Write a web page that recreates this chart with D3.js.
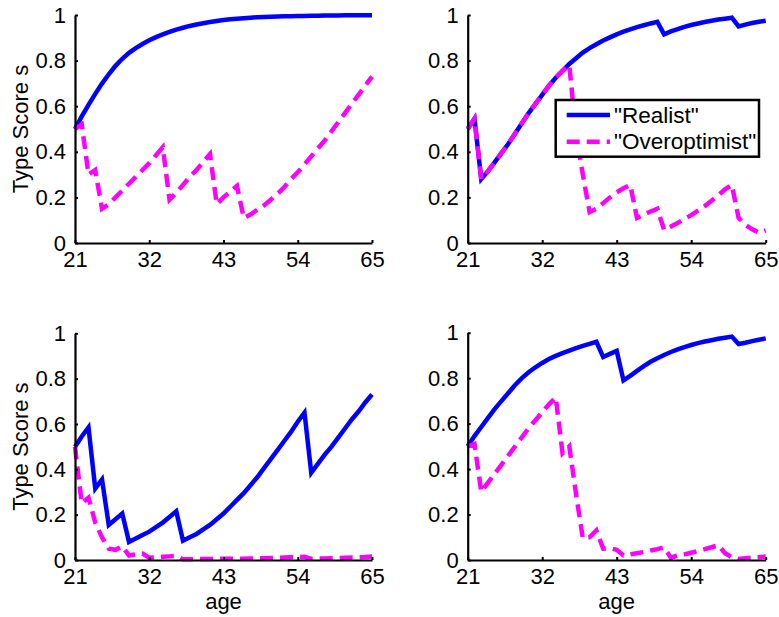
<!DOCTYPE html>
<html>
<head>
<meta charset="utf-8">
<script src="https://cdn.jsdelivr.net/npm/d3@7"></script>
<style>
  html, body { margin: 0; padding: 0; background: #fff; }
  svg { display: block; }
  text { font-family: "Liberation Sans", Arial, Helvetica, sans-serif; fill: #000; }
</style>
</head>
<body>
<svg id="chart" width="779" height="617"></svg>
<script>
// Age grid shared by every panel
const ages = [21, 22, 23, 24, 25, 26, 27, 28, 29, 30, 31, 32, 33, 34, 35, 36, 37, 38, 39, 40,
  41, 42, 43, 44, 45, 46, 47, 48, 49, 50, 51, 52, 53, 54, 55, 56, 57, 58, 59, 60,
  61, 62, 63, 64, 65];

const xTicks = [21, 32, 43, 54, 65];
const yTicks = [0, 0.2, 0.4, 0.6, 0.8, 1];
const yTickLabels = ["0", "0.2", "0.4", "0.6", "0.8", "1"];

const seriesNames = ["\"Realist\"", "\"Overoptimist\""];

// Panel A (top left)
const realistA = [0.5, 0.555, 0.606, 0.654, 0.699, 0.74, 0.777, 0.808, 0.834, 0.855,
  0.873, 0.889, 0.903, 0.915, 0.926, 0.936, 0.944, 0.952, 0.958, 0.964,
  0.969, 0.974, 0.978, 0.981, 0.984, 0.986, 0.988, 0.99, 0.991, 0.992,
  0.993, 0.994, 0.995, 0.996, 0.996, 0.997, 0.997, 0.998, 0.998, 0.998,
  0.999, 0.999, 0.999, 0.999, 0.999];
const overoptA = [0.5, 0.52, 0.3, 0.32, 0.15, 0.17, 0.2, 0.23, 0.26, 0.29,
  0.32, 0.35, 0.385, 0.42, 0.19, 0.22, 0.255, 0.29, 0.32, 0.355,
  0.39, 0.17, 0.2, 0.225, 0.25, 0.11, 0.125, 0.145, 0.165, 0.19,
  0.215, 0.245, 0.28, 0.31, 0.345, 0.38, 0.415, 0.45, 0.49, 0.53,
  0.57, 0.61, 0.65, 0.69, 0.73];

// Panel B (top right)
const realistB = [0.5, 0.545, 0.28, 0.315, 0.355, 0.395, 0.435, 0.48, 0.525, 0.57,
  0.61, 0.65, 0.69, 0.725, 0.755, 0.785, 0.81, 0.835, 0.855, 0.872,
  0.888, 0.902, 0.915, 0.927, 0.937, 0.947, 0.955, 0.963, 0.97, 0.915,
  0.928, 0.938, 0.948, 0.956, 0.963, 0.969, 0.975, 0.98, 0.984, 0.988,
  0.95, 0.958, 0.965, 0.97, 0.975];
const overoptB = [0.5, 0.545, 0.28, 0.315, 0.355, 0.395, 0.435, 0.48, 0.525, 0.57,
  0.61, 0.65, 0.69, 0.725, 0.755, 0.78, 0.48, 0.3, 0.135, 0.15,
  0.175, 0.2, 0.222, 0.24, 0.255, 0.11, 0.125, 0.138, 0.15, 0.057,
  0.072, 0.088, 0.105, 0.122, 0.142, 0.162, 0.185, 0.21, 0.235, 0.255,
  0.11, 0.08, 0.06, 0.045, 0.055];

// Panel C (bottom left)
const realistC = [0.5, 0.545, 0.585, 0.315, 0.355, 0.155, 0.18, 0.205, 0.08, 0.095,
  0.11, 0.125, 0.145, 0.165, 0.19, 0.215, 0.085, 0.1, 0.115, 0.135,
  0.155, 0.18, 0.205, 0.235, 0.265, 0.295, 0.33, 0.365, 0.405, 0.445,
  0.485, 0.525, 0.565, 0.61, 0.65, 0.385, 0.425, 0.465, 0.5, 0.54,
  0.58, 0.62, 0.655, 0.695, 0.73];
const overoptC = [0.5, 0.25, 0.275, 0.165, 0.1, 0.05, 0.045, 0.06, 0.02, 0.025,
  0.028, 0.01, 0.012, 0.014, 0.016, 0.018, 0.003, 0.003, 0.004, 0.004,
  0.004, 0.005, 0.005, 0.005, 0.006, 0.006, 0.007, 0.007, 0.008, 0.009,
  0.01, 0.011, 0.012, 0.013, 0.014, 0.005, 0.006, 0.007, 0.008, 0.009,
  0.01, 0.011, 0.012, 0.013, 0.015];

// Panel D (bottom right)
const realistD = [0.5, 0.545, 0.585, 0.625, 0.665, 0.7, 0.735, 0.77, 0.8, 0.826,
  0.848, 0.867, 0.884, 0.898, 0.91, 0.921, 0.932, 0.942, 0.951, 0.96,
  0.893, 0.907, 0.92, 0.79, 0.81, 0.832, 0.853, 0.872, 0.888, 0.902,
  0.915, 0.927, 0.937, 0.946, 0.954, 0.961, 0.967, 0.973, 0.978, 0.983,
  0.95, 0.956, 0.963, 0.969, 0.975];
const overoptD = [0.5, 0.51, 0.3, 0.34, 0.38, 0.42, 0.46, 0.5, 0.54, 0.58,
  0.615, 0.65, 0.685, 0.715, 0.47, 0.5, 0.29, 0.095, 0.1, 0.13,
  0.05, 0.052, 0.045, 0.02, 0.025, 0.03, 0.035, 0.042, 0.048, 0.055,
  0.01, 0.02, 0.025, 0.032, 0.04, 0.048, 0.056, 0.065, 0.03, 0.012,
  0.005, 0.008, 0.01, 0.012, 0.015];

const BLUE = "#0000ff";
const MAGENTA = "#ff00ff";
const DASH = "13,7";
const LINE_W = 4.5;
const FONT = 22;

const panels = [
  { realist: realistA, overopt: overoptA, left: 75,    right: 372,   top: 15,    bottom: 243, tickBase: 24,   ylabel: true,  xlabel: false, legend: false },
  { realist: realistB, overopt: overoptB, left: 467.7, right: 765.7, top: 15,    bottom: 243, tickBase: 24,   ylabel: false, xlabel: false, legend: true },
  { realist: realistC, overopt: overoptC, left: 75,    right: 372,   top: 333.3, bottom: 560, tickBase: 23.5, ylabel: true,  xlabel: true,  legend: false },
  { realist: realistD, overopt: overoptD, left: 467.7, right: 765.7, top: 332.7, bottom: 560, tickBase: 23.5, ylabel: false, xlabel: true,  legend: false }
];

const svg = d3.select("#chart");

panels.forEach(p => {
  const x = d3.scaleLinear().domain([21, 65]).range([p.left, p.right]);
  const y = d3.scaleLinear().domain([0, 1]).range([p.bottom, p.top]);
  const g = svg.append("g");

  const line = d3.line()
    .x((d, i) => x(ages[i]))
    .y(d => y(d));

  // Realist path, then the dashed overoptimist path on top
  g.append("path")
    .datum(p.realist)
    .attr("d", line)
    .attr("fill", "none")
    .attr("stroke", BLUE)
    .attr("stroke-width", LINE_W)
    .attr("stroke-linejoin", "miter")
    .attr("stroke-miterlimit", 3);

  g.append("path")
    .datum(p.overopt)
    .attr("d", line)
    .attr("fill", "none")
    .attr("stroke", MAGENTA)
    .attr("stroke-width", LINE_W)
    .attr("stroke-dasharray", DASH)
    .attr("stroke-linejoin", "miter")
    .attr("stroke-miterlimit", 3);

  // Axes with inward ticks
  const xAxis = d3.axisBottom(x)
    .tickValues(xTicks)
    .tickFormat(d => String(d))
    .tickSize(-3)
    .tickSizeOuter(0)
    .tickPadding(0);
  const yAxis = d3.axisLeft(y)
    .tickValues(yTicks)
    .tickFormat((d, i) => yTickLabels[i])
    .tickSize(-3)
    .tickSizeOuter(0)
    .tickPadding(9);

  const gx = g.append("g")
    .attr("transform", `translate(0,${p.bottom})`)
    .call(xAxis);
  const gy = g.append("g")
    .attr("transform", `translate(${p.left},0)`)
    .call(yAxis);

  [gx, gy].forEach(ax => {
    ax.select(".domain").attr("stroke", "#000").attr("stroke-width", 2.2);
    ax.selectAll(".tick line").attr("stroke", "#000").attr("stroke-width", 2);
    ax.selectAll(".tick text")
      .attr("fill", "#000")
      .style("font-size", FONT + "px")
      .style("font-family", "'Liberation Sans', Arial, Helvetica, sans-serif");
  });
  gx.selectAll(".tick text").attr("y", p.tickBase).attr("dy", null);

  if (p.ylabel) {
    g.append("text")
      .attr("transform", `translate(28,${(p.top + p.bottom) / 2}) rotate(-90)`)
      .attr("text-anchor", "middle")
      .style("font-size", FONT + "px")
      .text("Type Score s");
  }
  if (p.xlabel) {
    g.append("text")
      .attr("x", (p.left + p.right) / 2)
      .attr("y", 609)
      .attr("text-anchor", "middle")
      .style("font-size", FONT + "px")
      .text("age");
  }

  if (p.legend) {
    const lg = g.append("g");
    lg.append("rect")
      .attr("x", 555.7).attr("y", 100)
      .attr("width", 203.3).attr("height", 56.7)
      .attr("fill", "#fff")
      .attr("stroke", "#000")
      .attr("stroke-width", 2.5);
    const rows = [
      { name: seriesNames[0], color: BLUE, dash: null, cy: 115 },
      { name: seriesNames[1], color: MAGENTA, dash: DASH, cy: 141.7 }
    ];
    rows.forEach(r => {
      lg.append("line")
        .attr("x1", 566.7).attr("x2", 610)
        .attr("y1", r.cy).attr("y2", r.cy)
        .attr("stroke", r.color)
        .attr("stroke-width", LINE_W)
        .attr("stroke-dasharray", r.dash);
      lg.append("text")
        .attr("x", 614)
        .attr("y", r.cy + 7.5)
        .style("font-size", "22.5px")
        .text(r.name);
    });
  }
});
</script>
</body>
</html>
